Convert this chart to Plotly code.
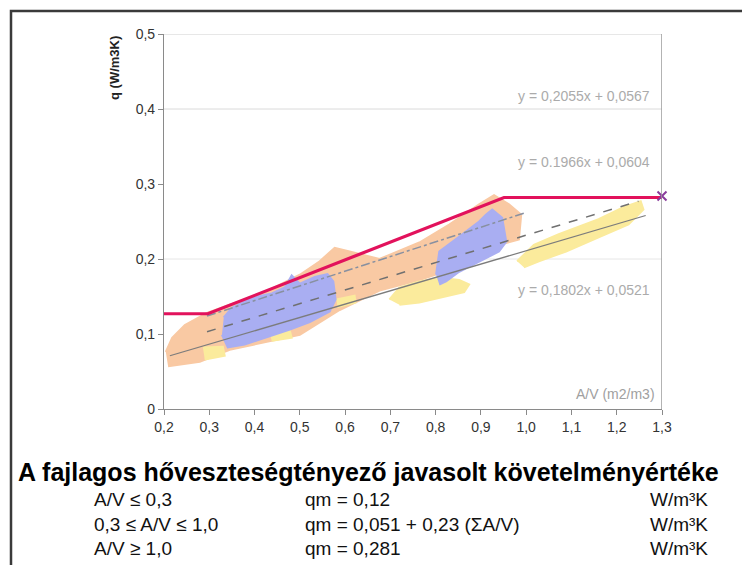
import plotly.graph_objects as go

# ---------------- data ----------------
x_tick_vals = [0.2, 0.3, 0.4, 0.5, 0.6, 0.7, 0.8, 0.9, 1.0, 1.1, 1.2, 1.3]
x_tick_text = ["0,2", "0,3", "0,4", "0,5", "0,6", "0,7", "0,8", "0,9", "1,0", "1,1", "1,2", "1,3"]
y_tick_vals = [0, 0.1, 0.2, 0.3, 0.4, 0.5]
y_tick_text = ["0", "0,1", "0,2", "0,3", "0,4", "0,5"]

# outlines of the scatter clouds (A/V, q)
orange_x = [0.209, 0.279, 0.345, 0.433, 0.500, 0.588, 0.676, 0.764, 0.819, 0.874, 0.940, 0.984,
            0.989, 0.962, 0.929, 0.896, 0.830, 0.764, 0.676, 0.610, 0.577, 0.544, 0.500, 0.411,
            0.345, 0.295, 0.246, 0.218, 0.204]
orange_y = [0.057, 0.063, 0.079, 0.090, 0.099, 0.132, 0.158, 0.172, 0.183, 0.202, 0.219, 0.226,
            0.259, 0.273, 0.285, 0.273, 0.246, 0.222, 0.200, 0.210, 0.215, 0.197, 0.179, 0.152,
            0.139, 0.128, 0.112, 0.095, 0.076]

blue1_x = [0.332, 0.350, 0.378, 0.407, 0.438, 0.467, 0.482, 0.500, 0.533, 0.561, 0.574, 0.579,
           0.566, 0.522, 0.478, 0.422, 0.378, 0.341, 0.328]
blue1_y = [0.122, 0.135, 0.143, 0.150, 0.154, 0.162, 0.178, 0.167, 0.176, 0.180, 0.170, 0.146,
           0.130, 0.116, 0.106, 0.095, 0.086, 0.082, 0.099]

blue2_x = [0.801, 0.808, 0.859, 0.896, 0.911, 0.925, 0.947, 0.956, 0.940, 0.896, 0.852, 0.823, 0.808]
blue2_y = [0.179, 0.210, 0.233, 0.250, 0.259, 0.266, 0.255, 0.223, 0.210, 0.197, 0.183, 0.170, 0.166]

yellow_parts = [
    ([0.286, 0.330, 0.334, 0.290], [0.082, 0.083, 0.071, 0.066]),
    ([0.433, 0.478, 0.482, 0.438], [0.102, 0.104, 0.095, 0.091]),
    ([0.581, 0.621, 0.623, 0.583], [0.146, 0.151, 0.142, 0.136]),
    ([0.698, 0.720, 0.764, 0.808, 0.852, 0.874, 0.863, 0.819, 0.764, 0.720],
     [0.146, 0.162, 0.170, 0.175, 0.172, 0.166, 0.156, 0.150, 0.142, 0.139]),
    ([0.980, 1.017, 1.072, 1.160, 1.215, 1.253, 1.259, 1.226, 1.160, 1.088, 1.028, 0.995],
     [0.197, 0.219, 0.233, 0.253, 0.269, 0.277, 0.266, 0.246, 0.229, 0.210, 0.197, 0.189]),
]

# trend lines as drawn (end points)
trend1_x = [0.295, 1.000]
trend1_y = [0.124, 0.262]
trend2_x = [0.295, 1.248]
trend2_y = [0.103, 0.277]
trend3_x = [0.213, 1.264]
trend3_y = [0.071, 0.258]

# proposed requirement limit
limit_x = [0.2, 0.297, 0.951, 1.3]
limit_y = [0.127, 0.127, 0.282, 0.282]
marker_x = [1.3]
marker_y = [0.284]

eq_texts = ["y = 0,2055x + 0,0567", "y = 0.1966x + 0,0604", "y = 0,1802x + 0,0521"]
eq_y = [0.417, 0.329, 0.159]

title_text = "A fajlagos hőveszteségtényező javasolt követelményértéke"
row_col1 = ["A/V ≤ 0,3", "0,3 ≤ A/V ≤ 1,0", "A/V ≥ 1,0"]
row_col2 = ["qm = 0,12", "qm = 0,051 + 0,23 (ΣA/V)", "qm = 0,281"]
row_col3 = ["W/m³K", "W/m³K", "W/m³K"]

# ---------------- figure ----------------
ORANGE = "#F9C9A3"
BLUE = "#A9AEF2"
YELLOW = "#FBEB9C"
FONT = "Liberation Sans, Arial, sans-serif"

# plot area in page pixels: x 164..662, y 34..409 (page body has an 8px margin)
PX0, PX1, PY0, PY1 = 164, 662, 34, 409


def px_x(px):
    return (px - PX0) / (PX1 - PX0)


def px_y(py):
    return (PY1 - py) / (PY1 - PY0)


fig = go.Figure()

fig.add_trace(go.Scatter(x=orange_x, y=orange_y, fill="toself", mode="lines",
                         fillcolor=ORANGE, line=dict(color=ORANGE, width=2), hoverinfo="skip"))
for xs, ys in yellow_parts:
    fig.add_trace(go.Scatter(x=xs, y=ys, fill="toself", mode="lines",
                             fillcolor=YELLOW, line=dict(color=YELLOW, width=2), hoverinfo="skip"))
fig.add_trace(go.Scatter(x=blue1_x, y=blue1_y, fill="toself", mode="lines",
                         fillcolor=BLUE, line=dict(color=BLUE, width=2), hoverinfo="skip"))
fig.add_trace(go.Scatter(x=blue2_x, y=blue2_y, fill="toself", mode="lines",
                         fillcolor=BLUE, line=dict(color=BLUE, width=2), hoverinfo="skip"))

fig.add_trace(go.Scatter(x=trend1_x, y=trend1_y, mode="lines",
                         line=dict(color="#8890A0", width=1.5, dash="dashdot")))
fig.add_trace(go.Scatter(x=trend2_x, y=trend2_y, mode="lines",
                         line=dict(color="#707070", width=1.5, dash="dash")))
fig.add_trace(go.Scatter(x=trend3_x, y=trend3_y, mode="lines",
                         line=dict(color="#7C7C7C", width=1.3)))

fig.add_trace(go.Scatter(x=limit_x, y=limit_y, mode="lines",
                         line=dict(color="#E2125C", width=3.2)))
fig.add_trace(go.Scatter(x=marker_x, y=marker_y, mode="markers", cliponaxis=False,
                         marker=dict(symbol="x-thin", size=9, line=dict(color="#8A3C9C", width=2))))

# gridlines and plot-area border
for gy, col in [(0.2, "#E6E6E6"), (0.4, "#DADADA"), (0.5, "#CFCFCF")]:
    fig.add_shape(type="line", xref="x", yref="y", x0=0.2, x1=1.3, y0=gy, y1=gy,
                  line=dict(color=col, width=1), layer="below")
fig.add_shape(type="line", xref="x", yref="y", x0=1.3, x1=1.3, y0=0, y1=0.5,
              line=dict(color="#9A9A9A", width=1.5))

# outer frame
fig.add_shape(type="rect", xref="paper", yref="paper",
              x0=px_x(11), x1=px_x(775), y0=px_y(590), y1=px_y(11),
              line=dict(color="#3A3A3A", width=2.5))

for t, yy in zip(eq_texts, eq_y):
    fig.add_annotation(x=1.277, y=yy, xref="x", yref="y", text=t, showarrow=False,
                       xanchor="right", yanchor="middle",
                       font=dict(family=FONT, size=14, color="#ABABAB"))
fig.add_annotation(x=1.288, y=0.020, xref="x", yref="y", text="A/V (m2/m3)", showarrow=False,
                   xanchor="right", yanchor="middle",
                   font=dict(family=FONT, size=14, color="#A0A0A0"))
fig.add_annotation(x=px_x(114), y=px_y(68), xref="paper", yref="paper",
                   text="<b>q (W/m3K)</b>", textangle=-90, showarrow=False,
                   xanchor="center", yanchor="middle",
                   font=dict(family=FONT, size=13, color="#222222"))

fig.add_annotation(x=px_x(16), y=px_y(472), xref="paper", yref="paper",
                   text="<b>" + title_text + "</b>", showarrow=False,
                   xanchor="left", yanchor="middle",
                   font=dict(family=FONT, size=25, color="#000000"))
row_y_px = [500, 524, 548]
for c1, c2, c3, py in zip(row_col1, row_col2, row_col3, row_y_px):
    for txt, px in [(c1, 92), (c2, 303), (c3, 648)]:
        fig.add_annotation(x=px_x(px), y=px_y(py), xref="paper", yref="paper",
                           text=txt, showarrow=False, xanchor="left", yanchor="middle",
                           font=dict(family=FONT, size=19, color="#111111"))

fig.update_layout(
    width=742, height=557,
    margin=dict(l=PX0 - 8, r=750 - PX1, t=PY0 - 8, b=565 - PY1, pad=0),
    paper_bgcolor="white", plot_bgcolor="white",
    showlegend=False,
    font=dict(family=FONT, size=14, color="#333333"),
    xaxis=dict(range=[0.2, 1.3], tickvals=x_tick_vals, ticktext=x_tick_text,
               showgrid=False, zeroline=False, showline=True, linecolor="#8A8A8A", linewidth=1.2,
               ticks="outside", ticklen=5, tickcolor="#8A8A8A",
               tickfont=dict(family=FONT, size=14, color="#333333")),
    yaxis=dict(range=[0, 0.5], tickvals=y_tick_vals, ticktext=y_tick_text,
               showgrid=False, zeroline=False, showline=True, linecolor="#8A8A8A", linewidth=1.2,
               ticks="outside", ticklen=5, tickcolor="#8A8A8A",
               tickfont=dict(family=FONT, size=14, color="#333333")),
)

fig.write_html("out.html")
